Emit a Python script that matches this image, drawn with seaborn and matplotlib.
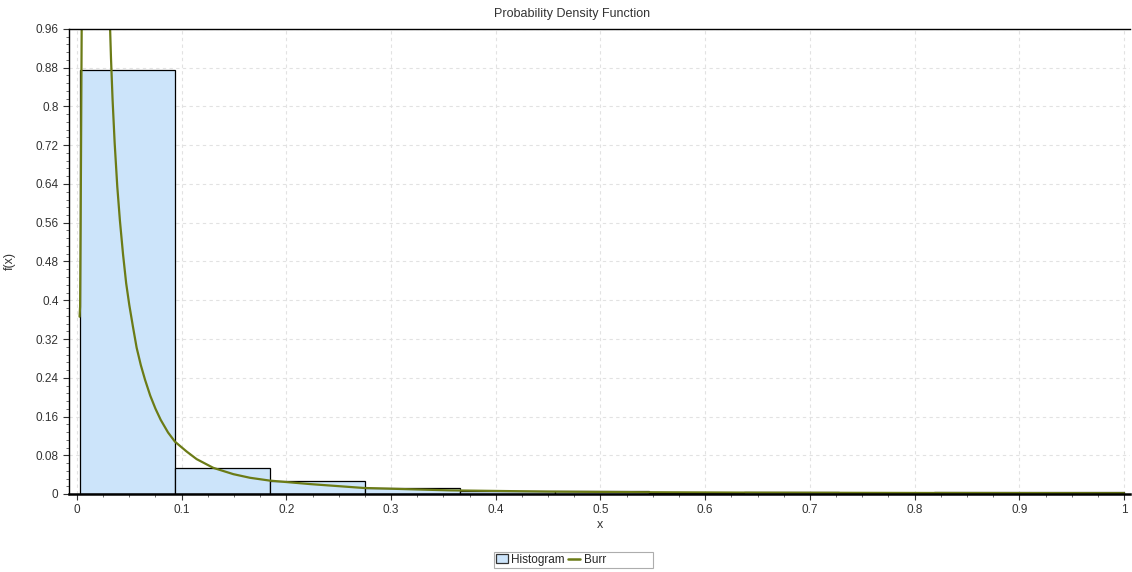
import numpy as np
import pandas as pd
import matplotlib
matplotlib.use("Agg")
import matplotlib.pyplot as plt
from matplotlib.ticker import MultipleLocator, FuncFormatter
from matplotlib.patches import Patch
from matplotlib.lines import Line2D
import seaborn as sns

# ---- data ----
bin_edges = [0.003, 0.0936, 0.1843, 0.2749, 0.3655, 0.4562, 0.5468,
             0.6375, 0.7281, 0.8188, 0.9094, 1.0]
bin_heights = [0.875, 0.054, 0.027, 0.012, 0.006, 0.007, 0.003,
               0.0035, 0.0015, 0.0035, 0.0035]

burr_x = [0.0025, 0.0030, 0.0035, 0.0040, 0.0045, 0.015, 0.0315, 0.0325,
          0.0340, 0.0360, 0.0385, 0.0410, 0.0440, 0.0470, 0.0500, 0.0535,
          0.0570, 0.0610, 0.0650, 0.0700, 0.0750, 0.0800, 0.0870, 0.0936,
          0.1048, 0.1143, 0.1302, 0.1493, 0.1652, 0.1843, 0.2225, 0.2735,
          0.356, 0.45, 0.55, 0.65, 0.75, 0.85, 1.0]
burr_y = [0.366, 0.387, 0.55, 0.75, 0.96, 1.40, 0.971, 0.900,
          0.815, 0.725, 0.635, 0.565, 0.495, 0.435, 0.390, 0.345,
          0.302, 0.266, 0.236, 0.203, 0.176, 0.153, 0.127, 0.108,
          0.0876, 0.0720, 0.0540, 0.0410, 0.0335, 0.0276, 0.0205, 0.0125,
          0.0075, 0.0050, 0.0036, 0.0028, 0.0024, 0.0020, 0.0016]

title = "Probability Density Function"
x_label = "x"
y_label = "f(x)"
legend_labels = ["Histogram", "Burr"]

# ---- plotting ----
sns.set_style("white")
plt.rcParams['font.family'] = ['Liberation Sans', 'DejaVu Sans']

fig = plt.figure(figsize=(11.32, 5.72), dpi=100)
ax = fig.add_axes([69 / 1132, 1 - 494 / 572, (1130 - 69) / 1132, (494 - 29) / 572])

centers = [(bin_edges[i] + bin_edges[i + 1]) / 2 for i in range(len(bin_heights))]
hist_df = pd.DataFrame({"x": centers, "w": bin_heights})
sns.histplot(data=hist_df, x="x", weights="w", bins=bin_edges, stat="count",
             color="#cce4fa", edgecolor="black", linewidth=0.9, alpha=1.0, ax=ax)

burr_df = pd.DataFrame({"x": burr_x, "y": burr_y})
sns.lineplot(data=burr_df, x="x", y="y", color="#6b7b16", linewidth=1.6, ax=ax,
             clip_on=True)

ax.set_xlim(-0.0076, 1.0057)
ax.set_ylim(0, 0.96)

ax.xaxis.set_major_locator(MultipleLocator(0.1))
ax.xaxis.set_minor_locator(MultipleLocator(0.025))
ax.yaxis.set_major_locator(MultipleLocator(0.08))
ax.yaxis.set_minor_locator(MultipleLocator(0.016))
fmt = FuncFormatter(lambda v, p: f"{round(v, 4):g}")
ax.xaxis.set_major_formatter(fmt)
ax.yaxis.set_major_formatter(fmt)

ax.tick_params(axis="both", which="major", direction="out", length=4, width=0.8,
               labelsize=8.5, colors="#333333", labelcolor="#333333")
ax.tick_params(axis="both", which="minor", direction="out", length=2.5, width=0.6,
               colors="#555555")
ax.tick_params(bottom=True, left=True, which="both")

ax.grid(True, which="major", linestyle=(0, (3, 3)), color="#e2e2e2", linewidth=0.8)
ax.set_axisbelow(True)

for s in ["left", "top"]:
    ax.spines[s].set_visible(True)
    ax.spines[s].set_color("black")
    ax.spines[s].set_linewidth(1.0)
ax.spines["bottom"].set_color("black")
ax.spines["bottom"].set_linewidth(1.8)
ax.spines["right"].set_visible(False)

ax.set_xlabel(x_label, fontsize=9, color="#333333", labelpad=2)
ax.set_ylabel(y_label, fontsize=9, color="#333333", labelpad=14)

fig.text(572 / 1132, 1 - 14 / 572, title, ha="center", va="center",
         fontsize=9, color="#333333")

handles = [Patch(facecolor="#cce4fa", edgecolor="#333333", linewidth=0.9),
           Line2D([0], [0], color="#6b7b16", linewidth=1.8),
           Line2D([0], [0], color="none")]
leg = fig.legend(handles, legend_labels + ["        "], loc="center left", ncol=3,
                 bbox_to_anchor=(494 / 1132, 1 - 560 / 572), fontsize=8.5,
                 frameon=True, fancybox=False, handlelength=1.0, handleheight=0.8,
                 handletextpad=0.3, columnspacing=0.3, borderpad=0.15,
                 borderaxespad=0)
leg.get_frame().set_edgecolor("#999999")
leg.get_frame().set_linewidth(0.8)

fig.savefig("out.png", dpi=100)
